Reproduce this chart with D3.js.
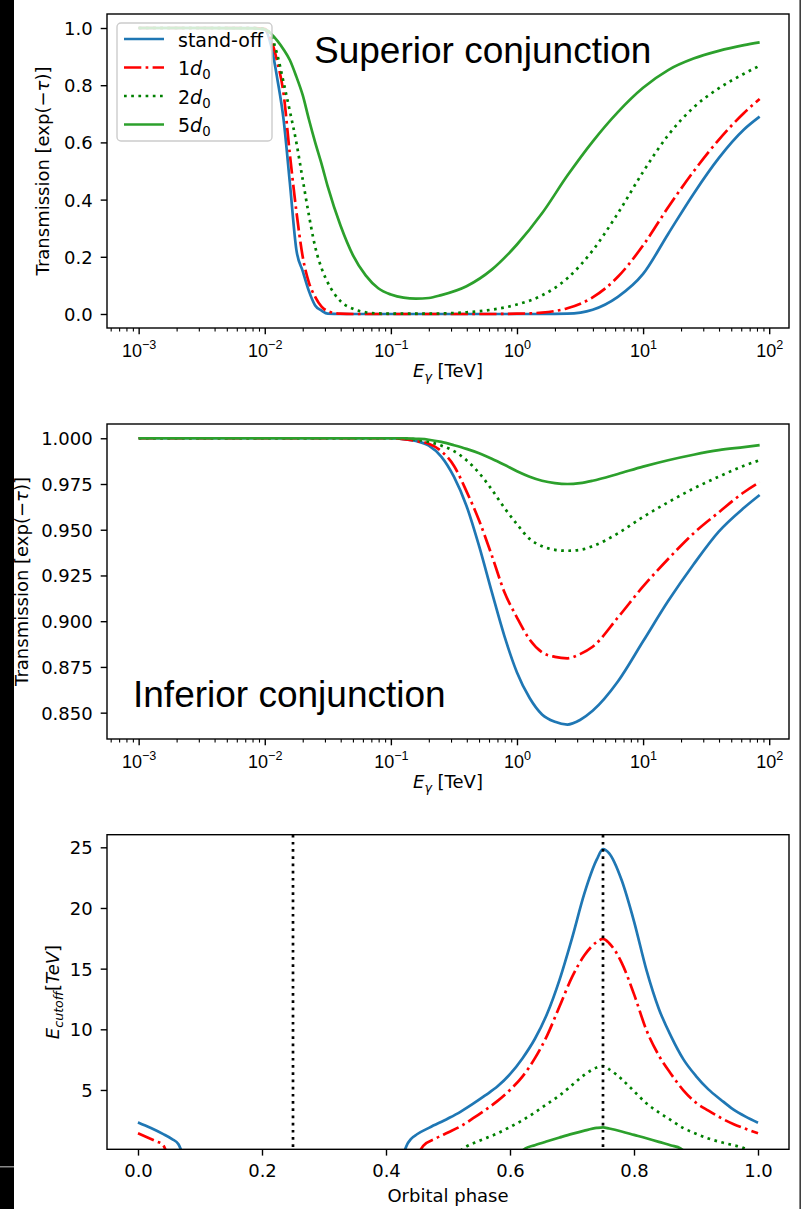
<!DOCTYPE html>
<html>
<head>
<meta charset="utf-8">
<script src="https://cdn.jsdelivr.net/npm/d3@7"></script>
<style>
  body { margin: 0; background: #fff; }
  svg { display: block; font-family: "DejaVu Sans", sans-serif; }
</style>
</head>
<body>
<div id="chart"></div>
<script>
// ---- data ----

// superior conjunction, transmission vs photon energy (TeV)
var supE = [0.001, 0.003, 0.0079, 0.0100, 0.0112, 0.0126, 0.0141, 0.0158, 0.0178, 0.0200,
    0.0224, 0.0251, 0.0282, 0.0316, 0.0398, 0.0501, 0.0631, 0.0794, 0.100, 0.126,
    0.158, 0.200, 0.251, 0.398, 0.631, 1.00, 1.58, 2.51, 3.98, 6.31,
    10.0, 15.8, 25.1, 39.8, 63.1, 84.0];
var supStandoff = [1, 1, 1, 0.995, 0.94, 0.82, 0.68, 0.46, 0.225, 0.15,
    0.08, 0.03, 0.012, 0.001, 0, 0, 0, 0, 0, 0,
    0, 0, 0, 0, 0, 0, 0, 0.001, 0.015, 0.06,
    0.14, 0.28, 0.42, 0.545, 0.645, 0.69];
var supD1 = [1, 1, 1, 0.997, 0.96, 0.88, 0.77, 0.56, 0.36, 0.20,
    0.11, 0.06, 0.026, 0.01, 0.001, 0, 0, 0, 0, 0,
    0, 0, 0, 0, 0, 0.001, 0.005, 0.02, 0.058, 0.13,
    0.24, 0.373, 0.498, 0.609, 0.703, 0.752];
var supD2 = [1, 1, 1, 0.997, 0.975, 0.905, 0.81, 0.71, 0.60, 0.47,
    0.345, 0.235, 0.16, 0.11, 0.045, 0.018, 0.006, 0.002, 0.001, 0.001,
    0.001, 0.001, 0.002, 0.006, 0.015, 0.033, 0.065, 0.125, 0.222, 0.352,
    0.497, 0.625, 0.722, 0.789, 0.84, 0.868];
var supD5 = [1, 1, 0.999, 0.995, 0.98, 0.955, 0.925, 0.888, 0.83, 0.765,
    0.68, 0.60, 0.525, 0.445, 0.31, 0.205, 0.135, 0.09, 0.068, 0.057,
    0.054, 0.056, 0.066, 0.097, 0.155, 0.243, 0.352, 0.484, 0.603, 0.706,
    0.791, 0.853, 0.893, 0.92, 0.94, 0.95];

// inferior conjunction
var infE = [0.001, 0.01, 0.0316, 0.0631, 0.100, 0.126, 0.158, 0.200, 0.251, 0.316,
    0.398, 0.501, 0.631, 0.794, 1.00, 1.26, 1.58, 2.00, 2.51, 3.16,
    3.98, 6.31, 10.0, 15.8, 25.1, 39.8, 63.1, 84.0];
var infStandoff = [1, 1, 1, 1, 1, 0.9995, 0.9985, 0.996, 0.990, 0.979,
    0.963, 0.941, 0.916, 0.892, 0.872, 0.858, 0.849, 0.845, 0.8435, 0.846,
    0.851, 0.867, 0.889, 0.911, 0.931, 0.949, 0.962, 0.969];
var infD1 = [1, 1, 1, 1, 1, 0.9995, 0.9985, 0.997, 0.993, 0.985,
    0.971, 0.955, 0.936, 0.916, 0.902, 0.890, 0.883, 0.8805, 0.8797, 0.882,
    0.886, 0.902, 0.919, 0.934, 0.948, 0.9595, 0.9705, 0.976];
var infD2 = [1, 1, 1, 1, 1, 1, 0.9993, 0.998, 0.996, 0.993,
    0.988, 0.981, 0.972, 0.962, 0.953, 0.945, 0.941, 0.939, 0.9385, 0.939,
    0.941, 0.948, 0.957, 0.965, 0.9725, 0.979, 0.985, 0.988];
var infD5 = [1, 1, 1, 1, 1, 1, 0.9997, 0.9992, 0.998, 0.9962,
    0.9942, 0.9918, 0.9888, 0.9855, 0.982, 0.979, 0.9768, 0.9755, 0.975, 0.9755,
    0.9768, 0.9805, 0.9845, 0.988, 0.991, 0.9935, 0.9952, 0.9963];

// cutoff energy (TeV) vs orbital phase, null = gap
var cutPhaseStandoff = [0, 0.02, 0.04, 0.055, 0.065, 0.07, 0.25, 0.43, 0.435, 0.44,
    0.45, 0.47, 0.50, 0.52, 0.54, 0.56, 0.58, 0.60, 0.62, 0.64,
    0.66, 0.68, 0.70, 0.72, 0.74, 0.75, 0.76, 0.78, 0.80, 0.82,
    0.84, 0.86, 0.88, 0.90, 0.92, 0.94, 0.96, 0.98, 1.0];
var cutStandoff = [2.33, 1.88, 1.38, 0.95, 0.55, 0, null, 0, 0.6, 0.95,
    1.35, 1.9, 2.65, 3.2, 3.85, 4.55, 5.3, 6.3, 7.6, 9.2,
    11.3, 14.1, 17.5, 21.2, 24.0, 24.85, 24.5, 22.3, 18.9, 14.9,
    11.7, 9.4, 7.5, 6.15, 5.05, 4.2, 3.4, 2.8, 2.3];
var cutPhaseD1 = [0, 0.02, 0.03, 0.04, 0.045, 0.25, 0.455, 0.46, 0.48, 0.50,
    0.52, 0.54, 0.56, 0.58, 0.60, 0.62, 0.64, 0.66, 0.68, 0.70,
    0.72, 0.74, 0.75, 0.76, 0.78, 0.80, 0.82, 0.84, 0.86, 0.88,
    0.90, 0.92, 0.94, 0.96, 0.98, 1.0];
var cutD1 = [1.43, 0.98, 0.75, 0.5, 0, null, 0, 0.4, 1.0, 1.5,
    2.0, 2.65, 3.35, 4.1, 5.0, 6.1, 7.6, 9.5, 11.9, 14.3,
    16.1, 17.2, 17.45, 17.1, 15.5, 12.9, 9.94, 7.85, 6.3, 4.95,
    3.95, 3.3, 2.7, 2.2, 1.8, 1.43];
var cutPhaseD2 = [0.52, 0.53, 0.55, 0.58, 0.60, 0.62, 0.64, 0.66, 0.68, 0.70,
    0.72, 0.74, 0.75, 0.76, 0.78, 0.80, 0.82, 0.84, 0.86, 0.88,
    0.90, 0.92, 0.94, 0.96, 0.975, 0.985];
var cutD2 = [0, 0.35, 0.8, 1.43, 1.95, 2.5, 3.15, 3.85, 4.55, 5.4,
    6.25, 6.85, 6.97, 6.7, 5.9, 4.9, 3.9, 3.15, 2.5, 1.85,
    1.4, 1.0, 0.7, 0.45, 0.25, 0];
var cutPhaseD5 = [0.62, 0.625, 0.64, 0.66, 0.68, 0.70, 0.72, 0.74, 0.75, 0.76,
    0.78, 0.80, 0.82, 0.84, 0.86, 0.875, 0.88];
var cutD5 = [0, 0.19, 0.45, 0.77, 1.08, 1.38, 1.65, 1.87, 1.92, 1.82,
    1.58, 1.3, 1.02, 0.72, 0.43, 0.19, 0];

var conjPhases = [0.25, 0.75];

var logTicks = [1e-3, 1e-2, 1e-1, 1, 10, 100];
var supYTicks = [0, 0.2, 0.4, 0.6, 0.8, 1.0];
var infYTicks = [0.850, 0.875, 0.900, 0.925, 0.950, 0.975, 1.000];
var cutYTicks = [5, 10, 15, 20, 25];
var phaseTicks = [0, 0.2, 0.4, 0.6, 0.8, 1.0];

// ---- styles ----
var lw = 2.7;
var styles = [
  {name: "standoff", color: "#1f77b4", dash: null},
  {name: "d1", color: "#ff0000", dash: "17.3,4.3,2.7,4.3"},
  {name: "d2", color: "#008000", dash: "2.7,4.5"},
  {name: "d5", color: "#2ca02c", dash: null}
];

var W = 802, H = 1209;
var left = 107, right = 789;
var fs = 18;

var svg = d3.select("#chart").append("svg")
    .attr("width", W)
    .attr("height", H);

svg.append("rect").attr("width", W).attr("height", H).attr("fill", "#fff");

function clip(id, top, bottom) {
  svg.append("clipPath").attr("id", id)
    .append("rect")
      .attr("x", left).attr("y", top)
      .attr("width", right - left).attr("height", bottom - top);
}

function drawSeries(g, clipId, xs, ys, st, x, y) {
  var pts = xs.map(function(d, i) { return [d, ys[i]]; });
  var line = d3.line()
      .defined(function(d) { return d[1] != null; })
      .curve(d3.curveMonotoneX)
      .x(function(d) { return x(d[0]); })
      .y(function(d) { return y(d[1]); });
  g.append("path")
      .datum(pts)
      .attr("clip-path", "url(#" + clipId + ")")
      .attr("fill", "none")
      .attr("stroke", st.color)
      .attr("stroke-width", lw)
      .attr("stroke-linejoin", "round")
      .attr("stroke-dasharray", st.dash)
      .attr("d", line);
}

function frame(top, bottom) {
  svg.append("rect")
      .attr("x", left).attr("y", top)
      .attr("width", right - left).attr("height", bottom - top)
      .attr("fill", "none")
      .attr("stroke", "#000")
      .attr("stroke-width", 1.4);
}

function tidy(g, w) {
  g.select(".domain").remove();
  g.selectAll(".tick line").attr("stroke", "#000").attr("stroke-width", w);
  g.selectAll(".tick text")
      .attr("fill", "#000")
      .attr("font-size", fs)
      .attr("font-family", "DejaVu Sans");
}

function logXAxis(x, bottom) {
  var minor = [];
  [-4, -3, -2, -1, 0, 1, 2].forEach(function(k) {
    for (var m = 2; m <= 9; m++) {
      var v = m * Math.pow(10, k);
      if (v > x.domain()[0] && v < x.domain()[1]) minor.push(v);
    }
  });
  var gm = svg.append("g").attr("transform", "translate(0," + bottom + ")")
      .call(d3.axisBottom(x).tickValues(minor).tickSize(3.6).tickFormat(""));
  tidy(gm, 1.1);
  gm.selectAll(".tick text").remove();

  var gx = svg.append("g").attr("transform", "translate(0," + bottom + ")")
      .call(d3.axisBottom(x).tickValues(logTicks).tickSize(6.3).tickFormat(""));
  tidy(gx, 1.4);
  gx.selectAll(".tick text").remove();
  gx.selectAll(".tick").each(function(d) {
    var e = Math.round(Math.log10(d));
    var t = d3.select(this).append("text")
        .attr("y", 29)
        .attr("text-anchor", "middle")
        .attr("fill", "#000")
        .attr("font-size", fs);
    t.append("tspan").text("10");
    t.append("tspan").attr("dy", -7.6).attr("font-size", 12.6)
        .text(e < 0 ? "\u2212" + (-e) : String(e));
  });
}

function yAxis(y, ticks, fmt) {
  var gy = svg.append("g").attr("transform", "translate(" + left + ",0)")
      .call(d3.axisLeft(y).tickValues(ticks).tickSize(6.3).tickPadding(8)
      .tickFormat(d3.format(fmt)));
  tidy(gy, 1.4);
  gy.selectAll(".tick text").attr("dy", "0.36em");
}

function energyLabel(yBase) {
  var t = svg.append("text")
      .attr("x", (left + right) / 2).attr("y", yBase)
      .attr("text-anchor", "middle")
      .attr("font-size", fs).attr("fill", "#000");
  t.append("tspan").attr("font-style", "italic").text("E");
  t.append("tspan").attr("font-style", "italic").attr("font-size", 12.6).attr("dy", 4).text("\u03b3");
  t.append("tspan").attr("dy", -4).text(" [TeV]");
}

function transLabel(xBase, yMid) {
  var t = svg.append("text")
      .attr("transform", "translate(" + xBase + "," + yMid + ") rotate(-90)")
      .attr("text-anchor", "middle")
      .attr("font-size", fs).attr("fill", "#000");
  t.append("tspan").text("Transmission [exp(");
  t.append("tspan").text("\u2212");
  t.append("tspan").attr("font-style", "italic").text("\u03c4");
  t.append("tspan").text(")]");
}

// ---- panel 1: superior conjunction ----
var p1 = {top: 14, bottom: 328};
var xLog1 = d3.scaleLog().domain([Math.pow(10, -3.251), Math.pow(10, 2.157)]).range([left, right]);
var y1 = d3.scaleLinear().domain([-0.049, 1.049]).range([p1.bottom, p1.top]);
clip("c1", p1.top, p1.bottom);
var g1 = svg.append("g");
[supStandoff, supD1, supD2, supD5].forEach(function(s, i) {
  drawSeries(g1, "c1", supE, s, styles[i], xLog1, y1);
});
frame(p1.top, p1.bottom);
logXAxis(xLog1, p1.bottom);
yAxis(y1, supYTicks, ".1f");
energyLabel(377);
transLabel(49, (p1.top + p1.bottom) / 2);

svg.append("text")
    .attr("x", 314).attr("y", 63)
    .attr("font-family", "Liberation Sans, Arial, sans-serif")
    .attr("font-size", 37).attr("fill", "#000")
    .text("Superior conjunction");

// legend
var legend = svg.append("g");
legend.append("rect")
    .attr("x", 117).attr("y", 23).attr("width", 155).attr("height", 118).attr("rx", 4)
    .attr("fill", "#fff").attr("fill-opacity", 0.8)
    .attr("stroke", "#cccccc").attr("stroke-width", 1.4);
var legRows = [39, 67.5, 96, 124.5];
var legLabels = [["stand-off"], ["1", "d", "0"], ["2", "d", "0"], ["5", "d", "0"]];
styles.forEach(function(st, i) {
  legend.append("line")
      .attr("x1", 124).attr("x2", 164)
      .attr("y1", legRows[i]).attr("y2", legRows[i])
      .attr("stroke", st.color).attr("stroke-width", lw)
      .attr("stroke-dasharray", st.dash);
  var t = legend.append("text")
      .attr("x", 178).attr("y", legRows[i] + 7.5)
      .attr("font-size", 19).attr("fill", "#000");
  var parts = legLabels[i];
  t.append("tspan").text(parts[0]);
  if (parts.length > 1) {
    t.append("tspan").attr("font-style", "italic").text(parts[1]);
    t.append("tspan").attr("font-size", 13.3).attr("dy", 4).text(parts[2]);
  }
});

// ---- panel 2: inferior conjunction ----
var p2 = {top: 424, bottom: 739};
var y2 = d3.scaleLinear().domain([0.8356, 1.0078]).range([p2.bottom, p2.top]);
clip("c2", p2.top, p2.bottom);
var g2 = svg.append("g");
[infStandoff, infD1, infD2, infD5].forEach(function(s, i) {
  drawSeries(g2, "c2", infE, s, styles[i], xLog1, y2);
});
frame(p2.top, p2.bottom);
logXAxis(xLog1, p2.bottom);
yAxis(y2, infYTicks, ".3f");
energyLabel(788);
transLabel(28, (p2.top + p2.bottom) / 2);

svg.append("text")
    .attr("x", 133).attr("y", 707)
    .attr("font-family", "Liberation Sans, Arial, sans-serif")
    .attr("font-size", 37).attr("fill", "#000")
    .text("Inferior conjunction");

// ---- panel 3: cutoff energy vs phase ----
var p3 = {top: 834.7, bottom: 1149.3};
var x3 = d3.scaleLinear().domain([-0.05, 1.05]).range([left, right]);
var y3 = d3.scaleLinear().domain([0.11, 26.04]).range([p3.bottom, p3.top]);
clip("c3", p3.top, p3.bottom);
var g3 = svg.append("g");
drawSeries(g3, "c3", cutPhaseStandoff, cutStandoff, styles[0], x3, y3);
drawSeries(g3, "c3", cutPhaseD1, cutD1, styles[1], x3, y3);
drawSeries(g3, "c3", cutPhaseD2, cutD2, styles[2], x3, y3);
drawSeries(g3, "c3", cutPhaseD5, cutD5, styles[3], x3, y3);

g3.selectAll(".conj")
    .data(conjPhases)
    .enter().append("line")
      .attr("x1", function(d) { return x3(d); })
      .attr("x2", function(d) { return x3(d); })
      .attr("y1", p3.top).attr("y2", p3.bottom)
      .attr("stroke", "#000").attr("stroke-width", lw)
      .attr("stroke-dasharray", "2.7,4.5");

frame(p3.top, p3.bottom);
var gx3 = svg.append("g").attr("transform", "translate(0," + p3.bottom + ")")
    .call(d3.axisBottom(x3).tickValues(phaseTicks).tickSize(6.3).tickPadding(8.3)
    .tickFormat(d3.format(".1f")));
tidy(gx3, 1.4);
yAxis(y3, cutYTicks, "d");

svg.append("text")
    .attr("x", (left + right) / 2).attr("y", 1202)
    .attr("text-anchor", "middle")
    .attr("font-size", fs).attr("fill", "#000")
    .text("Orbital phase");

var ey = svg.append("text")
    .attr("transform", "translate(58.5," + (p3.top + p3.bottom) / 2 + ") rotate(-90)")
    .attr("text-anchor", "middle")
    .attr("font-size", fs).attr("fill", "#000");
ey.append("tspan").attr("font-style", "italic").text("E");
ey.append("tspan").attr("font-style", "italic").attr("font-size", 12.6).attr("dy", 4).text("cutoff");
ey.append("tspan").attr("dy", -4).text("[");
ey.append("tspan").attr("font-style", "italic").text("TeV");
ey.append("tspan").text("]");

// ---- page edges seen in the picture ----
svg.append("rect").attr("x", 0).attr("y", 0).attr("width", 14).attr("height", H).attr("fill", "#000");
svg.append("rect").attr("x", 0).attr("y", 1166).attr("width", 14).attr("height", 1.5).attr("fill", "#888");
svg.append("rect").attr("x", 799.5).attr("y", 0).attr("width", 1.3).attr("height", H).attr("fill", "#111");
</script>
</body>
</html>
